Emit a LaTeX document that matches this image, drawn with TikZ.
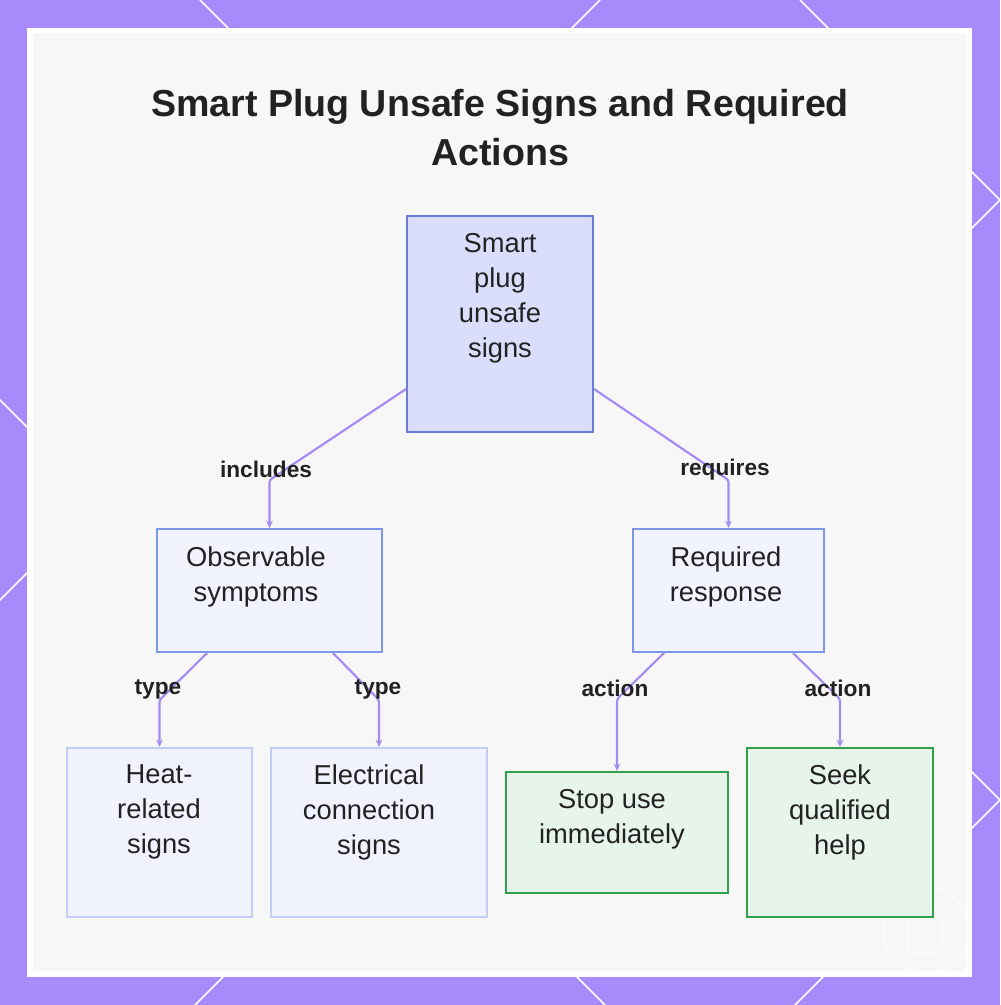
\documentclass[tikz,border=0pt]{standalone}
\usepackage{fontspec}
\setmainfont{Liberation Sans}
\usetikzlibrary{arrows.meta,fit,calc}
\definecolor{framepurple}{HTML}{A78BFA}
\definecolor{panelgray}{HTML}{F7F7F7}
\definecolor{edgepurple}{HTML}{A58AF2}
\definecolor{rootfill}{HTML}{DADEFB}
\definecolor{rootdraw}{HTML}{6A7ED8}
\definecolor{midfill}{HTML}{F1F3FE}
\definecolor{middraw}{HTML}{7E97E8}
\definecolor{leaffill}{HTML}{F0F3FE}
\definecolor{leafdraw}{HTML}{C3CDF5}
\definecolor{greenfill}{HTML}{E7F4E9}
\definecolor{greendraw}{HTML}{33A04D}
\definecolor{textdark}{HTML}{222222}
\begin{document}
\begin{tikzpicture}[x=0.75pt,y=-0.75pt,
  box/.style={rectangle, inner sep=0pt, line width=1.5pt},
  rootbox/.style={box, fill=rootfill, draw=rootdraw},
  midbox/.style={box, fill=midfill, draw=middraw},
  leafbox/.style={box, fill=leaffill, draw=leafdraw},
  greenbox/.style={box, fill=greenfill, draw=greendraw},
  boxtext/.style={align=center, text=textdark, inner sep=0pt,
    font=\fontsize{20.5}{26.25}\selectfont},
  elabel/.style={text=textdark, inner sep=0pt, font=\bfseries\fontsize{17}{20}\selectfont},
  edge/.style={draw=edgepurple, line width=1.6pt, rounded corners=2pt,
    -{Stealth[length=5.5pt,width=5pt]}},
  deco/.style={draw=white, line width=1.1pt}
]
\useasboundingbox (0,0) rectangle (1000,1005);
\clip (0,0) rectangle (1000,1005);
% purple frame with diagonal lattice
\fill[framepurple] (0,0) rectangle (1000,1005);
\draw[deco] (800,0) -- (1805,1005);
\draw[deco] (200,0) -- (1205,1005);
\draw[deco] (-400,0) -- (605,1005);
\draw[deco] (600,0) -- (-405,1005);
\draw[deco] (1200,0) -- (195,1005);
\draw[deco] (1800,0) -- (795,1005);
% panel
\fill[white] (27,28) rectangle (972,977);
\fill[panelgray] (33,33) rectangle (966,971);
% faint watermark
\draw[white, line width=0.8pt, opacity=0.8] (926,930) circle (43);
\draw[white, line width=0.8pt, opacity=0.8, rounded corners=5pt] (908,910) rectangle (942,953);
\draw[white, line width=0.8pt, opacity=0.8] (918,910) -- (918,900) (932,910) -- (932,900);

% title
\node[align=center, text=textdark, inner sep=0pt,
  font=\bfseries\fontsize{28.2}{36.75}\selectfont] (title) at (500,128)
  {Smart Plug Unsafe Signs and Required\\Actions};

% boxes
\node[rootbox, fit={(407,216) (593,432)}] (root) {};
\node[midbox, fit={(157,529) (382,652)}] (obs) {};
\node[midbox, fit={(633,529) (824,652)}] (req) {};
\node[leafbox, fit={(67,748) (252,917)}] (heat) {};
\node[leafbox, fit={(271,748) (487,917)}] (elec) {};
\node[greenbox, fit={(506,772) (728,893)}] (stop) {};
\node[greenbox, fit={(747,748) (933,917)}] (seek) {};

% box texts
\node[boxtext] (roott) at (500,298) {Smart\\plug\\unsafe\\signs};
\node[boxtext] (obst) at (256,577) {Observable\\symptoms};
\node[boxtext] (reqt) at (726,577) {Required\\response};
\node[boxtext] (heatt) at (159,812) {Heat-\\related\\signs};
\node[boxtext] (elect) at (369,812) {Electrical\\connection\\signs};
\node[boxtext] (stopt) at (612,819) {Stop use\\immediately};
\node[boxtext] (seekt) at (840,812) {Seek\\qualified\\help};

% edges
\draw[edge] ($(root.south west)+(0,-44)$) -- (obs.north |- 0,480) -- (obs.north);
\draw[edge] ($(root.south east)+(0,-44)$) -- (req.north |- 0,480) -- (req.north);
\draw[edge] ($(obs.south west)+(51,0)$) -- (heat.north |- 0,700) -- (heat.north);
\draw[edge] ($(obs.south east)+(-50,0)$) -- (elec.north |- 0,700) -- (elec.north);
\draw[edge] ($(req.south west)+(32,0)$) -- (stop.north |- 0,699) -- (stop.north);
\draw[edge] ($(req.south east)+(-32,0)$) -- (seek.north |- 0,699) -- (seek.north);

% edge labels
\node[elabel] (l1) at (266,469) {includes};
\node[elabel] (l2) at (725,470) {requires};
\node[elabel] (l3) at (158,689) {type};
\node[elabel] (l4) at (378,689) {type};
\node[elabel] (l5) at (615,688) {action};
\node[elabel] (l6) at (838,688) {action};
\end{tikzpicture}
\end{document}
